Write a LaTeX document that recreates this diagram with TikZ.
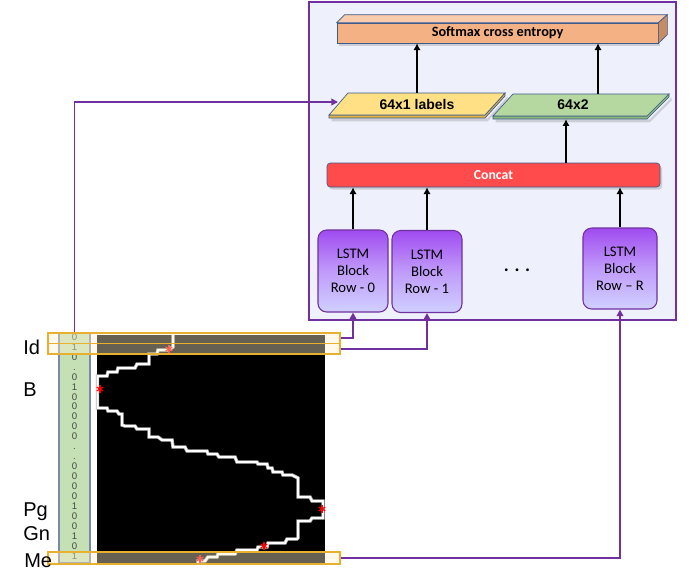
\documentclass[tikz,border=0pt]{standalone}
\usepackage{fontspec}
\setmainfont{Liberation Sans}
\newfontfamily\carl{Carlito}
\usetikzlibrary{arrows.meta,shadows}

\definecolor{panelfill}{RGB}{238,240,252}
\definecolor{pur}{RGB}{112,48,160}
\definecolor{salmon}{RGB}{244,177,131}
\definecolor{salmontop}{RGB}{248,203,173}
\definecolor{salmonside}{RGB}{200,140,100}
\definecolor{edgeblue}{RGB}{60,90,140}
\definecolor{labyel}{RGB}{255,224,133}
\definecolor{labyeld}{RGB}{225,180,70}
\definecolor{grn}{RGB}{181,216,160}
\definecolor{grnd}{RGB}{140,185,120}
\definecolor{concatred}{RGB}{255,75,75}
\definecolor{colgreen}{RGB}{197,224,180}
\definecolor{colborder}{RGB}{120,138,168}
\definecolor{hlborder}{RGB}{232,176,48}
\definecolor{hlfill}{RGB}{255,240,205}
\definecolor{lstmtop}{RGB}{160,75,240}
\definecolor{lstmmid}{RGB}{192,155,250}
\definecolor{lstmbot}{RGB}{208,208,255}
\definecolor{digitgray}{RGB}{70,70,70}

\begin{document}
\begin{tikzpicture}[x=0.75pt,y=-0.75pt,
  faceedge/.style={draw=edgeblue, line width=0.5pt},
  softfront/.style={faceedge, fill=salmon, minimum width=240.75pt, minimum height=15pt, inner sep=0pt,
    font=\carl\bfseries\fontsize{10.7}{12}\selectfont,
    drop shadow={opacity=0.3, shadow xshift=1.5pt, shadow yshift=-2pt}},
  partext/.style={inner sep=0pt, minimum height=16.5pt, font=\bfseries\fontsize{10.5}{12}\selectfont},
  concatbox/.style={draw=edgeblue, line width=0.5pt, fill=concatred, rounded corners=2.5pt,
    minimum width=249.75pt, minimum height=18pt, inner sep=0pt, text=white,
    font=\carl\bfseries\fontsize{10.3}{12}\selectfont,
    drop shadow={opacity=0.3, shadow xshift=1.5pt, shadow yshift=-2pt}},
  lstmbox/.style={draw=pur, line width=0.8pt, rounded corners=6.5pt,
    top color=lstmtop, bottom color=lstmbot, middle color=lstmmid,
    minimum width=52.5pt, minimum height=61.5pt, inner sep=0pt, align=center,
    font=\carl\fontsize{11}{12.75}\selectfont},
  barrow/.style={line width=1.8pt, -{Latex[length=5pt,width=5.5pt]}},
  pconn/.style={draw=pur, line width=1.2pt, -{Triangle[length=5pt,width=5pt]}},
  colnode/.style={draw=colborder, line width=0.9pt, fill=colgreen, minimum width=23.25pt,
    minimum height=172.5pt, inner sep=0pt},
  digit/.style={inner sep=0pt, text height=5pt, text depth=0pt, text=digitgray,
    font=\fontsize{7.2}{8}\selectfont},
  hlbox/.style={draw=hlborder, line width=1.1pt, fill=hlfill, fill opacity=0.4,
    minimum width=219pt, inner sep=0pt},
  lmlabel/.style={anchor=base west, inner sep=0pt, font=\fontsize{15}{18}\selectfont},
  starmark/.style={inner sep=0pt, minimum size=6pt, path picture={
    \foreach \a in {90,30,150}{
      \draw[red, line width=0.9pt] ([shift={(\a:2.8pt)}]path picture bounding box.center)
        -- ([shift={(\a+180:2.8pt)}]path picture bounding box.center);}}}
]
\useasboundingbox (0,0) rectangle (691,572);

% panel
\draw[pur, line width=1.1pt, fill=panelfill] (309,2) rectangle (676,320);

% softmax 3D box
\node[softfront] (soft) at (497.5,33) {Softmax cross entropy};
\draw[faceedge, fill=salmontop] (soft.north west) -- ++(8,-8) -- ([shift={(9,-8)}]soft.north east) -- (soft.north east) -- cycle;
\draw[faceedge, fill=salmonside] (soft.north east) -- ++(9,-8) -- ++(0,20) -- (soft.south east) -- cycle;

% 64x1 labels parallelogram
\draw[faceedge, fill=labyeld, drop shadow={opacity=0.3, shadow xshift=2pt, shadow yshift=-2.5pt}]
  (329,115) -- (485,115) -- (505,93) -- (505,96) -- (485,118) -- (329,118) -- cycle;
\draw[faceedge, fill=labyel] (348,93) -- (505,93) -- (485,115) -- (329,115) -- cycle;
\node[partext] (lab) at (417,104) {64x1 labels};
\coordinate (labin) at (338,102);

% 64x2 parallelogram
\draw[faceedge, fill=grnd, drop shadow={opacity=0.3, shadow xshift=2pt, shadow yshift=-2.5pt}]
  (493,116) -- (647,116) -- (669,94) -- (669,97) -- (647,119) -- (493,119) -- cycle;
\draw[faceedge, fill=grn] (513,94) -- (669,94) -- (647,116) -- (493,116) -- cycle;
\node[partext] (g2) at (573,105) {64x2};

% concat
\node[concatbox] (cc) at (493.5,175) {Concat};

% LSTM blocks
\node[lstmbox] (lstm0) at (353,271) {LSTM\\Block\\Row - 0};
\node[lstmbox] (lstm1) at (427,271.5) {LSTM\\Block\\Row - 1};
\node[lstmbox, minimum width=55.5pt, minimum height=60.75pt] (lstm2) at (620,268.5) {LSTM\\Block\\Row – R};
\node[inner sep=0pt, font=\carl\bfseries\fontsize{14}{16}\selectfont] (dots) at (517,270) {. . .};

% black arrows
\draw[barrow] (lab.north) -- (lab.north |- soft.south);
\draw[barrow] ([xshift=18.75pt]g2.north) -- ([xshift=18.75pt]g2.north |- soft.south);
\draw[barrow] ([xshift=-5.25pt]g2.south |- cc.north) -- ([xshift=-5.25pt,yshift=-2.25pt]g2.south);
\draw[barrow] (lstm0.north) -- (lstm0.north |- cc.south);
\draw[barrow] (lstm1.north) -- (lstm1.north |- cc.south);
\draw[barrow] (lstm2.north) -- (lstm2.north |- cc.south);

% left image
\node[colnode] (col) at (74.5,448) {};
\foreach \d [count=\i from 0] in {0,1,0,.,0,1,0,0,0,0,0,.,.,0,0,0,0,1,0,0,1,0,1}{
  \node[digit] (d\i) at (74.5,{337+9.95*\i}) {\d};
}
\node[fill=black, minimum width=171pt, minimum height=171pt, inner sep=0pt] (img) at (211,449) {};

\draw[gray!60, line width=2.6pt, line join=miter]
 (173,335) -- (173,347) -- (168,350) -- (158,350) -- (157,354) -- (149,354) -- (149,364) -- (137,364) -- (135,368) -- (118,368) -- (117,372) -- (108,372) -- (107,376) -- (97.5,376) -- (97.5,408) -- (107,408) -- (108,411) -- (117,411) -- (119,414) -- (122,414) -- (122,425) -- (125,426) -- (135,426) -- (137,429) -- (149,429) -- (149,437) -- (158,437) -- (162,440) -- (172,440) -- (173,447) -- (185,447) -- (187,451) -- (207,451) -- (208,454) -- (217,454) -- (219,457) -- (235,457) -- (237,462) -- (257,462) -- (258,464) -- (267,464) -- (268,468) -- (272,468) -- (273,472) -- (282,472) -- (283,475) -- (292,475) -- (298,478) -- (298,497) -- (310,497) -- (312,501) -- (323,501) -- (323,518) -- (312,518) -- (310,521) -- (298,521) -- (298,538) -- (297,539) -- (287,539) -- (285,543) -- (268,543) -- (267,547) -- (258,547) -- (257,550) -- (237,550) -- (235,554) -- (218,554) -- (217,557) -- (208,557) -- (205,561) -- (198,561) -- (198,563);
\draw[white, line width=1.5pt, line join=miter]
 (173,335) -- (173,347) -- (168,350) -- (158,350) -- (157,354) -- (149,354) -- (149,364) -- (137,364) -- (135,368) -- (118,368) -- (117,372) -- (108,372) -- (107,376) -- (97.5,376) -- (97.5,408) -- (107,408) -- (108,411) -- (117,411) -- (119,414) -- (122,414) -- (122,425) -- (125,426) -- (135,426) -- (137,429) -- (149,429) -- (149,437) -- (158,437) -- (162,440) -- (172,440) -- (173,447) -- (185,447) -- (187,451) -- (207,451) -- (208,454) -- (217,454) -- (219,457) -- (235,457) -- (237,462) -- (257,462) -- (258,464) -- (267,464) -- (268,468) -- (272,468) -- (273,472) -- (282,472) -- (283,475) -- (292,475) -- (298,478) -- (298,497) -- (310,497) -- (312,501) -- (323,501) -- (323,518) -- (312,518) -- (310,521) -- (298,521) -- (298,538) -- (297,539) -- (287,539) -- (285,543) -- (268,543) -- (267,547) -- (258,547) -- (257,550) -- (237,550) -- (235,554) -- (218,554) -- (217,557) -- (208,557) -- (205,561) -- (198,561) -- (198,563);

\node[starmark] (s1) at (169,349) {};
\node[starmark] (s2) at (100,389) {};
\node[starmark] (s3) at (322,509) {};
\node[starmark] (s4) at (264,546) {};
\node[starmark] (s5) at (200,559) {};

% highlight boxes
\node[hlbox, minimum height=7.875pt] (hl1) at (194,338.25) {};
\node[hlbox, minimum height=7.875pt] (hl2) at (194,348.75) {};
\node[hlbox, minimum height=9pt] (hl3) at (194,558) {};

% landmark labels
\node[lmlabel] (lId) at (23,354) {Id};
\node[lmlabel] (lB) at (23,396) {B};
\node[lmlabel] (lPg) at (23,516) {Pg};
\node[lmlabel] (lGn) at (23,540) {Gn};
\node[lmlabel] (lMe) at (24,567) {Me};

% purple connectors
\draw[pconn] (col.north) |- (labin);
\draw[pconn] (hl1.east) -| (lstm0.south);
\draw[pconn] (hl2.east) -| (lstm1.south);
\draw[pconn] (hl3.east) -| (lstm2.south);
\end{tikzpicture}
\end{document}
